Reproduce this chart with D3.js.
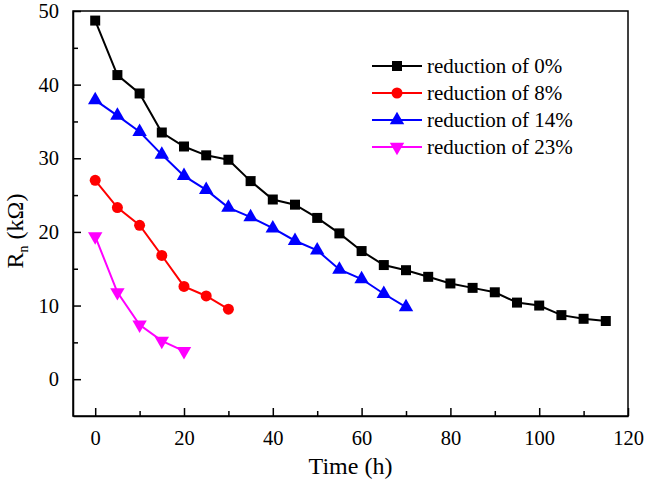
<!DOCTYPE html>
<html>
<head>
<meta charset="utf-8">
<script src="https://cdn.jsdelivr.net/npm/d3@7"></script>
<style>
  body { margin: 0; background: #fff; }
  svg { display: block; font-family: "Liberation Serif", "Times New Roman", serif; }
</style>
</head>
<body>
<svg id="chart" width="648" height="482"></svg>
<script>
// values
const timesBlack = d3.range(0, 120, 5);
const black0 = [48.7, 41.3, 38.8, 33.5, 31.6, 30.4, 29.8, 26.9, 24.4, 23.7, 21.9, 19.8,
  17.4, 15.5, 14.8, 13.9, 13.0, 12.4, 11.8, 10.4, 10.0, 8.7, 8.2, 7.9];
const red8 = [27.0, 23.3, 20.9, 16.8, 12.6, 11.3, 9.5];
const blue14 = [37.9, 35.8, 33.6, 30.5, 27.6, 25.7, 23.3, 22.0, 20.5, 18.8, 17.5, 14.9, 13.6, 11.6, 9.8];
const magenta23 = [19.4, 11.8, 7.4, 5.2, 3.8];
const xTicks = [0, 20, 40, 60, 80, 100, 120];
const yTicks = [0, 10, 20, 30, 40, 50];

const seriesList = [
  { name: "reduction of 0%", vals: black0, color: "#000000", shape: "square" },
  { name: "reduction of 8%", vals: red8, color: "#ff0000", shape: "circle" },
  { name: "reduction of 14%", vals: blue14, color: "#0000ff", shape: "up" },
  { name: "reduction of 23%", vals: magenta23, color: "#ff00ff", shape: "down" }
];

const svg = d3.select("#chart");
const m = { left: 73, right: 628, top: 11, bottom: 416 };

const x = d3.scaleLinear().domain([-5, 120]).range([m.left, m.right]);
const y = d3.scaleLinear().domain([-5, 50]).range([m.bottom, m.top]);

// frame
svg.append("rect")
  .attr("x", m.left).attr("y", m.top)
  .attr("width", m.right - m.left).attr("height", m.bottom - m.top)
  .attr("fill", "none").attr("stroke", "#000").attr("stroke-width", 1.5);

// axes, ticks pointing inward
const xAxis = d3.axisBottom(x).tickValues(xTicks).tickSizeInner(-8).tickSizeOuter(0).tickPadding(14);
const gx = svg.append("g").attr("transform", `translate(0,${m.bottom})`).call(xAxis);
gx.selectAll(".tick line").attr("stroke-width", 1.5);
svg.append("g").attr("transform", `translate(0,${m.bottom})`)
  .call(d3.axisBottom(x).tickValues(d3.range(10, 120, 20)).tickSizeInner(-5).tickSizeOuter(0).tickFormat(""))
  .call(g => g.select(".domain").remove())
  .selectAll(".tick line").attr("stroke-width", 1.5);

const yAxis = d3.axisLeft(y).tickValues(yTicks).tickSizeInner(-8).tickSizeOuter(0).tickPadding(14);
const gy = svg.append("g").attr("transform", `translate(${m.left},0)`).call(yAxis);
gy.selectAll(".tick line").attr("stroke-width", 1.5);
svg.append("g").attr("transform", `translate(${m.left},0)`)
  .call(d3.axisLeft(y).tickValues(d3.range(5, 50, 10)).tickSizeInner(-5).tickSizeOuter(0).tickFormat(""))
  .call(g => g.select(".domain").remove())
  .selectAll(".tick line").attr("stroke-width", 1.5);

svg.selectAll(".domain").attr("stroke-width", 1.5);
svg.selectAll(".tick text")
  .attr("font-family", "Liberation Serif, Times New Roman, serif")
  .attr("font-size", 20.5).attr("fill", "#000");

// axis titles
svg.append("text")
  .attr("x", (m.left + m.right) / 2).attr("y", 474)
  .attr("text-anchor", "middle").attr("font-size", 24)
  .text("Time (h)");

const yt = svg.append("text")
  .attr("transform", "translate(23,231) rotate(-90)")
  .attr("text-anchor", "middle").attr("font-size", 24);
yt.append("tspan").text("R");
yt.append("tspan").attr("font-size", 14).attr("dy", 5).text("n");
yt.append("tspan").attr("dy", -5).text(" (k\u03a9)");

// markers
const symbolFor = {
  square: d3.symbol().type(d3.symbolSquare).size(100),
  circle: d3.symbol().type(d3.symbolCircle).size(95),
  up: d3.symbol().type(d3.symbolTriangle).size(90),
  down: d3.symbol().type(d3.symbolTriangle).size(90)
};

function drawMarker(g, s, px, py) {
  g.append("path")
    .attr("d", symbolFor[s.shape]())
    .attr("transform", `translate(${px},${py})` + (s.shape === "down" ? " rotate(180)" : ""))
    .attr("fill", s.color);
}

const line = d3.line().x(d => x(d[0])).y(d => y(d[1]));

seriesList.forEach(s => {
  const pts = s.vals.map((v, i) => [timesBlack[i], v]);
  const g = svg.append("g");
  g.append("path").datum(pts)
    .attr("d", line).attr("fill", "none")
    .attr("stroke", s.color).attr("stroke-width", 2);
  pts.forEach(p => drawMarker(g, s, x(p[0]), y(p[1])));
});

// legend
const legRows = [66, 93, 120, 147];
seriesList.forEach((s, i) => {
  const g = svg.append("g");
  const ly = legRows[i];
  g.append("line").attr("x1", 372).attr("x2", 422).attr("y1", ly).attr("y2", ly)
    .attr("stroke", s.color).attr("stroke-width", 2);
  drawMarker(g, s, 397, ly);
  g.append("text").attr("x", 427).attr("y", ly + 7)
    .attr("font-size", 21).text(s.name);
});
</script>
</body>
</html>
